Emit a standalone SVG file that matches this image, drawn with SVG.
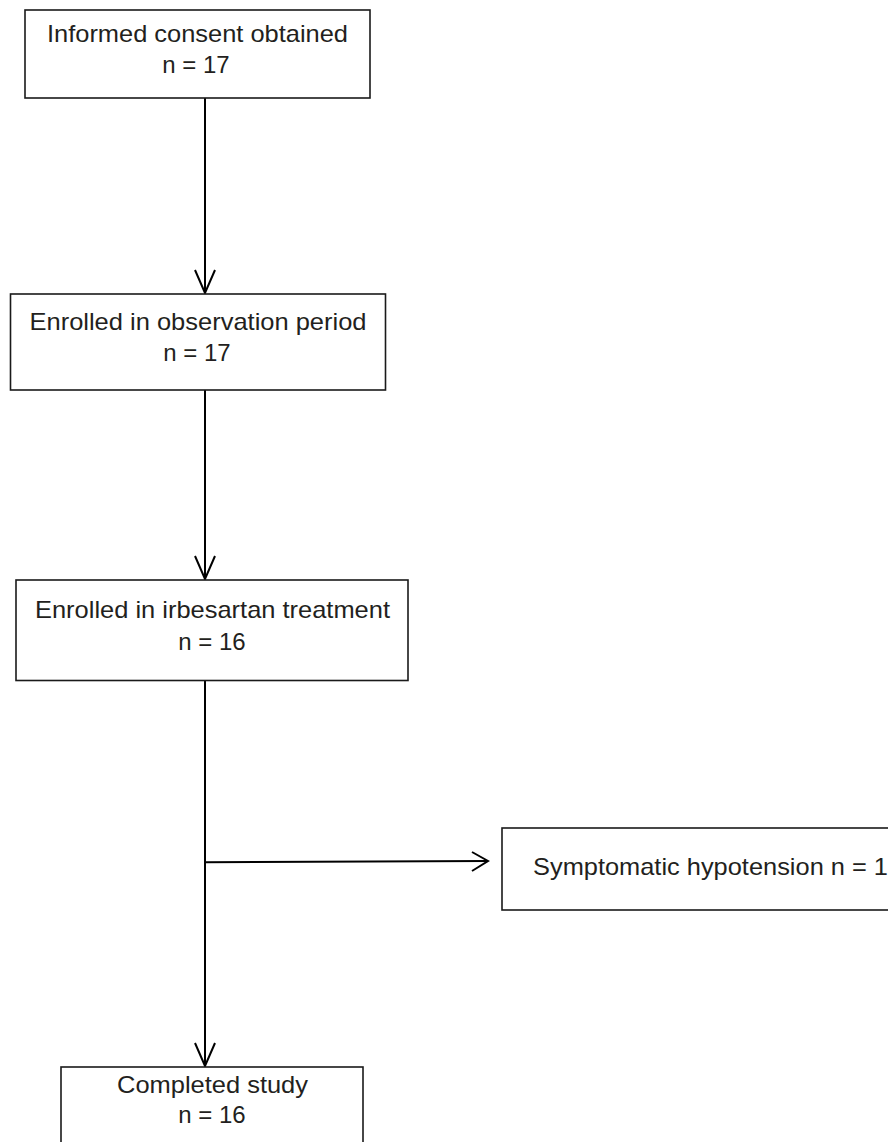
<svg xmlns="http://www.w3.org/2000/svg" width="888" height="1142" viewBox="0 0 888 1142">
<style>
.box{fill:#fff;stroke:#1a1a1a;stroke-width:1.6}
.t{font-family:"Liberation Sans",Arial,sans-serif;font-size:24px;fill:#231f20}
.c{text-anchor:middle}
.ln{fill:none;stroke:#000;stroke-width:2}
</style>
<rect width="888" height="1142" fill="#fff"/>
<g id="connectors">
<line class="ln" x1="205" y1="98" x2="205" y2="293"/>
<polyline class="ln" points="195,270 205,293 215,270"/>
<line class="ln" x1="205" y1="390" x2="205" y2="579"/>
<polyline class="ln" points="195,556 205,579 215,556"/>
<line class="ln" x1="205" y1="681" x2="205" y2="1066"/>
<polyline class="ln" points="195,1043 205,1066 215,1043"/>
<line class="ln" x1="205" y1="862.3" x2="488" y2="861"/>
<polyline class="ln" points="472,852 488,861 472,871"/>
</g>
<g id="n1">
<rect class="box" x="25" y="10" width="345" height="88"/>
<text class="t" x="47" y="42" textLength="301" lengthAdjust="spacingAndGlyphs">Informed consent obtained</text>
<text class="t c" x="196" y="73">n = 17</text>
</g>
<g id="n2">
<rect class="box" x="10.5" y="294" width="375" height="96"/>
<text class="t" x="29.5" y="330" textLength="337" lengthAdjust="spacingAndGlyphs">Enrolled in observation period</text>
<text class="t c" x="197" y="361">n = 17</text>
</g>
<g id="n3">
<rect class="box" x="16" y="580" width="392" height="100.5"/>
<text class="t" x="35" y="618" textLength="355" lengthAdjust="spacingAndGlyphs">Enrolled in irbesartan treatment</text>
<text class="t c" x="212" y="650">n = 16</text>
</g>
<g id="n4">
<rect class="box" x="502" y="828" width="400" height="82"/>
<text class="t" x="533" y="875" textLength="355" lengthAdjust="spacingAndGlyphs">Symptomatic hypotension n = 1</text>
</g>
<g id="n5">
<rect class="box" x="61" y="1067" width="302" height="90"/>
<text class="t" x="117" y="1093" textLength="191" lengthAdjust="spacingAndGlyphs">Completed study</text>
<text class="t c" x="212" y="1123">n = 16</text>
</g>
</svg>
